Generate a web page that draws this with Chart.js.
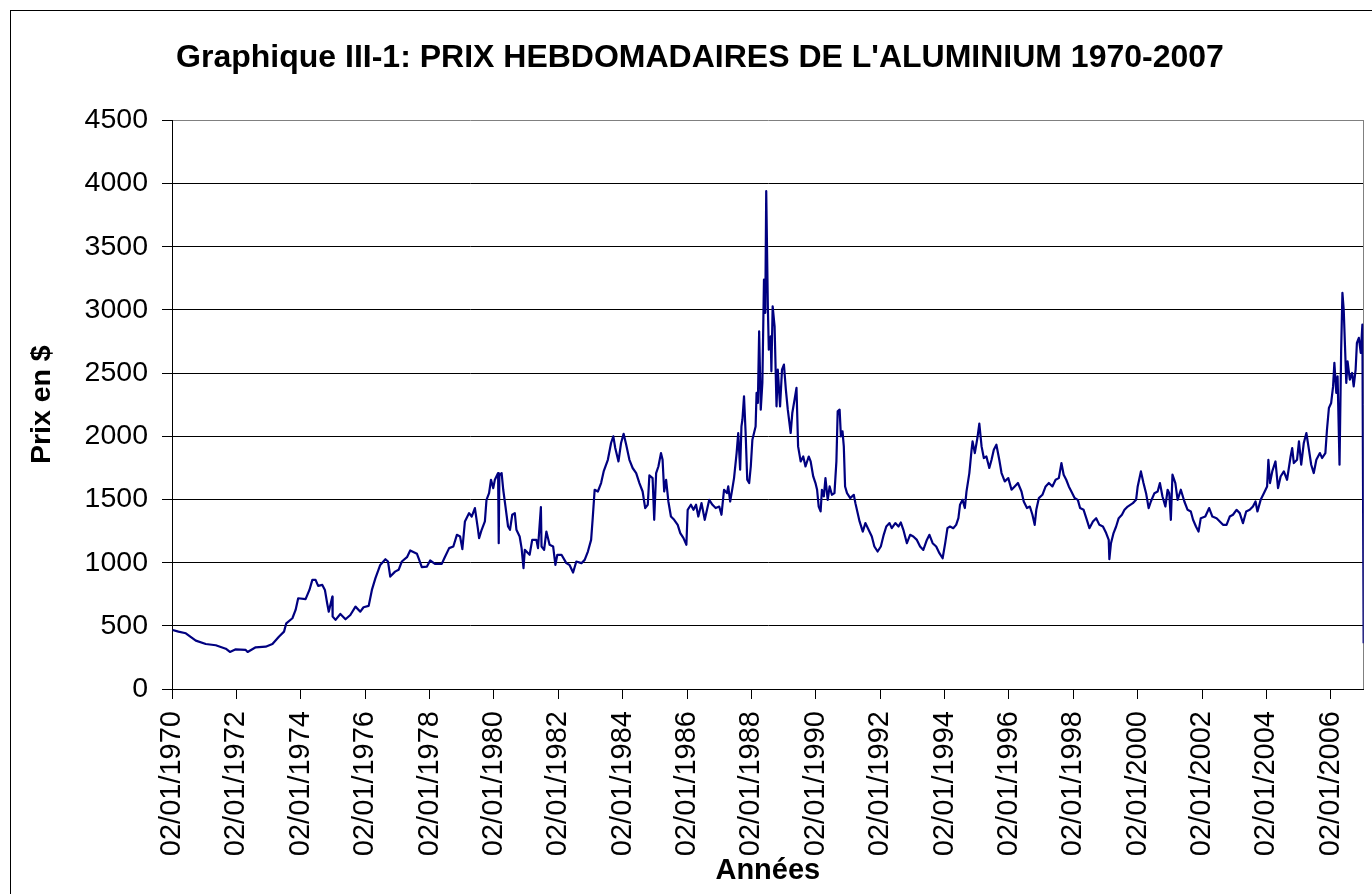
<!DOCTYPE html>
<html>
<head>
<meta charset="utf-8">
<title>Prix hebdomadaires de l'aluminium 1970-2007</title>
<script src="https://cdn.jsdelivr.net/npm/chart.js@4/dist/chart.umd.min.js"></script>
<style>
    body { margin: 0; background: #fff; }
    canvas { display: block; }
</style>
</head>
<body>
<canvas id="graphique" width="1372" height="894"></canvas>
<script>
// relevés [année décimale, prix en $]
var prix1970 = [
    [1970.02, 467], [1970.20, 454], [1970.43, 441], [1970.74, 383], [1971.05, 356], [1971.36, 346], [1971.67, 319],
    [1971.80, 293], [1971.98, 314], [1972.29, 309], [1972.35, 293], [1972.60, 330], [1972.91, 335], [1973.12, 356],
    [1973.32, 414], [1973.48, 454], [1973.55, 520], [1973.74, 560], [1973.84, 626], [1973.92, 718], [1974.15, 711],
    [1974.27, 784], [1974.36, 864], [1974.46, 864], [1974.54, 816], [1974.67, 824], [1974.75, 784], [1974.82, 679],
    [1974.87, 612], [1974.98, 731], [1974.99, 573], [1975.08, 547], [1975.23, 594], [1975.39, 552], [1975.54, 586],
    [1975.70, 652], [1975.85, 612], [1975.95, 647], [1976.11, 658], [1976.21, 784], [1976.32, 877], [1976.47, 982],
    [1976.63, 1027], [1976.71, 1009], [1976.78, 890], [1976.93, 929], [1977.04, 943], [1977.14, 1009], [1977.30, 1043],
    [1977.40, 1096], [1977.61, 1070], [1977.68, 1022], [1977.76, 964], [1977.92, 969], [1978.02, 1017], [1978.17, 990],
    [1978.38, 990], [1978.46, 1035], [1978.61, 1115], [1978.74, 1128], [1978.85, 1220], [1978.95, 1207], [1979.02, 1107],
    [1979.10, 1326], [1979.23, 1392], [1979.31, 1365], [1979.41, 1432], [1979.50, 1273], [1979.54, 1194], [1979.62, 1260],
    [1979.72, 1326], [1979.77, 1497], [1979.85, 1550], [1979.91, 1656], [1979.98, 1590]
];

var prix1980 = [
    [1980.03, 1656], [1980.13, 1709], [1980.15, 1154], [1980.17, 1690], [1980.24, 1709], [1980.29, 1577], [1980.36, 1444],
    [1980.44, 1286], [1980.50, 1260], [1980.57, 1379], [1980.65, 1392], [1980.70, 1260], [1980.80, 1207], [1980.86, 1115],
    [1980.92, 956], [1980.96, 1101], [1981.11, 1062], [1981.19, 1180], [1981.32, 1180], [1981.37, 1115], [1981.46, 1440],
    [1981.48, 1128], [1981.56, 1101], [1981.63, 1246], [1981.73, 1141], [1981.84, 1128], [1981.91, 982], [1981.97, 1062],
    [1982.10, 1062], [1982.25, 996], [1982.35, 982], [1982.46, 922], [1982.56, 1009], [1982.72, 996], [1982.82, 1022],
    [1982.92, 1088], [1983.02, 1180], [1983.07, 1352], [1983.13, 1577], [1983.23, 1563], [1983.33, 1630], [1983.41, 1722],
    [1983.54, 1814], [1983.64, 1947], [1983.71, 1999], [1983.77, 1907], [1983.87, 1801], [1983.95, 1947], [1984.03, 2020],
    [1984.11, 1933], [1984.21, 1814], [1984.31, 1749], [1984.42, 1709], [1984.52, 1630], [1984.62, 1563], [1984.70, 1432],
    [1984.78, 1458], [1984.83, 1690], [1984.93, 1669], [1984.98, 1339], [1985.04, 1709], [1985.11, 1761], [1985.19, 1867],
    [1985.24, 1814], [1985.29, 1563], [1985.35, 1656], [1985.42, 1484], [1985.50, 1365], [1985.60, 1339], [1985.71, 1299],
    [1985.79, 1234], [1985.89, 1194], [1985.98, 1141], [1986.02, 1418], [1986.12, 1458], [1986.20, 1418], [1986.28, 1458],
    [1986.35, 1365], [1986.45, 1471], [1986.55, 1339], [1986.69, 1497], [1986.79, 1458], [1986.89, 1432], [1987.00, 1444],
    [1987.07, 1379], [1987.15, 1577], [1987.24, 1550], [1987.28, 1603], [1987.34, 1484], [1987.41, 1590], [1987.46, 1669],
    [1987.54, 1867], [1987.59, 2026], [1987.65, 1735], [1987.69, 2078], [1987.72, 2131], [1987.77, 2316], [1987.82, 2026],
    [1987.87, 1656], [1987.93, 1630], [1987.98, 1761], [1988.03, 1973], [1988.13, 2078], [1988.16, 2343], [1988.20, 2264],
    [1988.24, 2831], [1988.29, 2211], [1988.34, 2422], [1988.39, 3240], [1988.43, 2977], [1988.46, 3940], [1988.51, 3029],
    [1988.54, 2686], [1988.60, 2791], [1988.62, 2514], [1988.66, 3029], [1988.72, 2870], [1988.78, 2237], [1988.82, 2527],
    [1988.89, 2237], [1988.95, 2527], [1989.01, 2567], [1989.07, 2369], [1989.13, 2211], [1989.22, 2026], [1989.27, 2184],
    [1989.34, 2290], [1989.40, 2383], [1989.45, 1920], [1989.53, 1801], [1989.61, 1840], [1989.68, 1761], [1989.78, 1840],
    [1989.84, 1801], [1989.92, 1682], [1989.99, 1630]
];

var prix1990 = [
    [1990.04, 1577], [1990.09, 1444], [1990.15, 1405], [1990.19, 1577], [1990.25, 1524], [1990.30, 1669], [1990.37, 1497],
    [1990.43, 1603], [1990.50, 1537], [1990.58, 1550], [1990.64, 1801], [1990.68, 2197], [1990.74, 2211], [1990.78, 1999],
    [1990.83, 2039], [1990.87, 1920], [1990.91, 1603], [1990.97, 1550], [1991.07, 1511], [1991.18, 1537], [1991.23, 1471],
    [1991.30, 1392], [1991.36, 1326], [1991.46, 1246], [1991.54, 1313], [1991.64, 1260], [1991.74, 1207], [1991.82, 1128],
    [1991.92, 1088], [1992.02, 1128], [1992.11, 1220], [1992.19, 1286], [1992.29, 1313], [1992.36, 1273], [1992.47, 1313],
    [1992.57, 1286], [1992.64, 1318], [1992.72, 1260], [1992.83, 1154], [1992.93, 1220], [1993.03, 1207], [1993.14, 1180],
    [1993.24, 1128], [1993.34, 1101], [1993.45, 1180], [1993.53, 1220], [1993.63, 1154], [1993.74, 1128], [1993.84, 1075],
    [1993.94, 1035], [1994.02, 1154], [1994.09, 1273], [1994.17, 1286], [1994.27, 1273], [1994.36, 1299], [1994.43, 1352],
    [1994.48, 1458], [1994.56, 1497], [1994.63, 1432], [1994.68, 1560], [1994.77, 1709], [1994.84, 1894], [1994.87, 1960],
    [1994.94, 1867], [1995.02, 1986], [1995.08, 2100], [1995.15, 1920], [1995.22, 1828], [1995.30, 1840], [1995.39, 1749],
    [1995.46, 1814], [1995.53, 1894], [1995.61, 1933], [1995.70, 1814], [1995.77, 1709], [1995.87, 1643], [1995.98, 1669],
    [1996.08, 1577], [1996.18, 1603], [1996.28, 1630], [1996.39, 1563], [1996.46, 1484], [1996.56, 1432], [1996.65, 1444],
    [1996.73, 1379], [1996.80, 1299], [1996.85, 1418], [1996.93, 1511], [1997.04, 1537], [1997.14, 1603], [1997.24, 1630],
    [1997.35, 1603], [1997.45, 1656], [1997.55, 1669], [1997.63, 1788], [1997.70, 1696], [1997.78, 1656], [1997.86, 1603],
    [1997.94, 1563], [1998.04, 1511], [1998.14, 1497], [1998.21, 1432], [1998.32, 1418], [1998.42, 1339], [1998.50, 1273],
    [1998.61, 1326], [1998.71, 1352], [1998.81, 1299], [1998.92, 1286], [1999.02, 1234], [1999.10, 1180], [1999.12, 1028],
    [1999.17, 1154], [1999.25, 1234], [1999.33, 1286], [1999.41, 1352], [1999.51, 1379], [1999.59, 1418], [1999.69, 1444],
    [1999.85, 1471], [1999.95, 1497]
];

var prix2000 = [
    [2000.00, 1603], [2000.10, 1722], [2000.18, 1630], [2000.26, 1550], [2000.34, 1432], [2000.41, 1484], [2000.52, 1550],
    [2000.62, 1563], [2000.69, 1630], [2000.77, 1524], [2000.86, 1444], [2000.93, 1577], [2000.98, 1550], [2001.03, 1339],
    [2001.08, 1696], [2001.17, 1630], [2001.24, 1497], [2001.34, 1577], [2001.45, 1484], [2001.55, 1418], [2001.65, 1405],
    [2001.72, 1339], [2001.81, 1286], [2001.89, 1246], [2001.96, 1352], [2002.10, 1365], [2002.22, 1432], [2002.32, 1365],
    [2002.45, 1352], [2002.55, 1326], [2002.65, 1299], [2002.76, 1299], [2002.86, 1365], [2002.96, 1379], [2003.07, 1418],
    [2003.17, 1392], [2003.27, 1313], [2003.37, 1405], [2003.48, 1418], [2003.58, 1444], [2003.66, 1484], [2003.72, 1405],
    [2003.82, 1497], [2003.92, 1550], [2004.02, 1603], [2004.06, 1814], [2004.11, 1630], [2004.18, 1722], [2004.28, 1801],
    [2004.36, 1590], [2004.44, 1682], [2004.54, 1722], [2004.64, 1656], [2004.75, 1840], [2004.80, 1907], [2004.85, 1788],
    [2004.95, 1814], [2005.01, 1960], [2005.08, 1775], [2005.16, 1947], [2005.24, 2026], [2005.32, 1894], [2005.39, 1775],
    [2005.47, 1709], [2005.55, 1814], [2005.66, 1867], [2005.73, 1828], [2005.83, 1867], [2005.88, 2052], [2005.94, 2224],
    [2006.01, 2264], [2006.07, 2395], [2006.11, 2581], [2006.17, 2343], [2006.21, 2474], [2006.27, 1775], [2006.32, 2672],
    [2006.36, 3135], [2006.40, 3003], [2006.44, 2712], [2006.48, 2422], [2006.52, 2593], [2006.59, 2448], [2006.66, 2501],
    [2006.71, 2395], [2006.77, 2527], [2006.81, 2739], [2006.87, 2779], [2006.93, 2660], [2006.98, 2884], [2007.02, 362]
];

var graduationsAnnees = [1970, 1972, 1974, 1976, 1978, 1980, 1982, 1984, 1986, 1988,
    1990, 1992, 1994, 1996, 1998, 2000, 2002, 2004, 2006];
var graduationsPrix = [0, 500, 1000, 1500, 2000, 2500, 3000, 3500, 4000, 4500];

var titre = "Graphique III-1: PRIX HEBDOMADAIRES DE L'ALUMINIUM 1970-2007";
var police = "'Liberation Sans', Arial, Helvetica, sans-serif";

function serie() {
    var tout = prix1970.concat(prix1980, prix1990, prix2000);
    var points = [];
    for (var i = 0; i < tout.length; i++) {
        points.push({ x: tout[i][0], y: tout[i][1] });
    }
    return points;
}

// fond blanc, cadre du graphique et bordure grise de la zone de tracé
var cadre = {
    id: 'cadre',
    beforeDraw: function (chart) {
        var ctx = chart.ctx;
        ctx.save();
        ctx.fillStyle = '#fff';
        ctx.fillRect(0, 0, chart.width, chart.height);
        ctx.strokeStyle = '#000';
        ctx.lineWidth = 1;
        ctx.strokeRect(10.5, 10.5, chart.width + 20, chart.height + 20);
        ctx.restore();
    },
    beforeDatasetsDraw: function (chart) {
        var a = chart.chartArea;
        var ctx = chart.ctx;
        ctx.save();
        ctx.strokeStyle = '#808080';
        ctx.lineWidth = 1;
        ctx.beginPath();
        ctx.moveTo(Math.round(a.right) - 0.5, Math.round(a.top));
        ctx.lineTo(Math.round(a.right) - 0.5, Math.round(a.bottom));
        ctx.stroke();
        ctx.restore();
    }
};

var graphique = new Chart(document.getElementById('graphique'), {
    type: 'line',
    data: {
        datasets: [{
            label: 'Prix',
            data: serie(),
            borderColor: '#000080',
            borderWidth: 2.2,
            borderJoinStyle: 'round',
            pointRadius: 0,
            tension: 0,
            fill: false
        }]
    },
    options: {
        responsive: false,
        animation: false,
        layout: { padding: { left: 34, right: 6, top: 0, bottom: 0 } },
        plugins: {
            legend: { display: false },
            tooltip: { enabled: false },
            title: {
                display: true,
                text: titre,
                color: '#000',
                font: { family: police, size: 32, weight: 'bold', lineHeight: 1.2 },
                padding: { top: 39, bottom: 43 }
            }
        },
        scales: {
            x: {
                type: 'linear',
                min: 1970,
                max: 2007.02,
                afterBuildTicks: function (axe) {
                    axe.ticks = graduationsAnnees.map(function (a) { return { value: a }; });
                },
                afterFit: function (axe) { axe.height = 205; },
                grid: { drawOnChartArea: false, color: '#000', tickColor: '#000', tickLength: 10 },
                border: { color: '#000', width: 1 },
                ticks: {
                    autoSkip: false,
                    minRotation: 90,
                    maxRotation: 90,
                    padding: 12,
                    color: '#000',
                    font: { family: police, size: 29, lineHeight: 1 },
                    callback: function (v) { return '02/01/' + v; }
                },
                title: {
                    display: true,
                    text: 'Années',
                    color: '#000',
                    font: { family: police, size: 29, weight: 'bold', lineHeight: 1.2 },
                    padding: { top: 0, bottom: 6 }
                }
            },
            y: {
                min: 0,
                max: 4500,
                afterBuildTicks: function (axe) {
                    axe.ticks = graduationsPrix.map(function (p) { return { value: p }; });
                },
                afterFit: function (axe) { axe.width = 138; },
                grid: {
                    color: function (c) { return c.tick && c.tick.value === 4500 ? '#808080' : '#000'; },
                    tickColor: '#000',
                    tickLength: 10
                },
                border: { color: '#000', width: 1 },
                ticks: {
                    padding: 14,
                    color: '#000',
                    font: { family: police, size: 28.5 },
                    callback: function (v) { return String(v); }
                },
                title: {
                    display: true,
                    text: 'Prix en $',
                    color: '#000',
                    font: { family: police, size: 28.5, weight: 'bold', lineHeight: 1.2 },
                    padding: { top: -9, bottom: 0 }
                }
            }
        }
    },
    plugins: [cadre]
});
</script>
</body>
</html>
